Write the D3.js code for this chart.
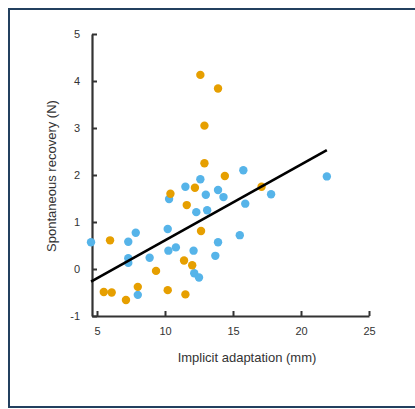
<!DOCTYPE html>
<html>
<head>
<meta charset="utf-8">
<script src="https://cdn.jsdelivr.net/npm/d3@7"></script>
<style>
  body { margin: 0; background: #fff; }
  text { font-family: "Liberation Sans", Arial, sans-serif; fill: #333; }
</style>
</head>
<body>
<svg id="chart" width="415" height="409"></svg>
<script>
// blue group
var blueX = [4.56, 7.3, 7.85, 7.3, 7.3, 8.0, 8.87, 10.2, 10.25, 10.8, 10.3, 11.5, 12.6, 13.0,
  12.3, 13.1, 12.1, 12.15, 12.5, 13.9, 13.7, 13.9, 14.3, 15.76, 15.9, 17.8, 21.9, 15.5];
var blueY = [0.57, 0.58, 0.77, 0.23, 0.13, -0.55, 0.24, 0.85, 0.39, 0.46, 1.49, 1.75, 1.91, 1.58,
  1.21, 1.25, 0.39, -0.09, -0.18, 0.57, 0.28, 1.68, 1.53, 2.10, 1.39, 1.59, 1.97, 0.72];

// orange group
var orangeX = [5.96, 5.5, 6.08, 7.13, 8.0, 9.34, 10.2, 11.5, 11.4, 12.0, 10.4, 11.6, 12.2, 12.65,
  12.9, 14.4, 12.6, 13.9, 12.9, 17.1];
var orangeY = [0.61, -0.49, -0.5, -0.66, -0.38, -0.04, -0.45, -0.54, 0.18, 0.08, 1.6, 1.36, 1.73, 0.81,
  2.25, 1.98, 4.13, 3.84, 3.05, 1.75];

// fitted line ends
var fitX = [4.56, 21.9];
var fitY = [-0.27, 2.53];

var xTicks = [5, 10, 15, 20, 25];
var yTicks = [-1, 0, 1, 2, 3, 4, 5];

const svg = d3.select("#chart");

// frame
svg.append("rect")
  .attr("x", 9)
  .attr("y", 9)
  .attr("width", 420)
  .attr("height", 398)
  .attr("fill", "none")
  .attr("stroke", "#23405f")
  .attr("stroke-width", 2);

var xScale = d3.scaleLinear()
  .domain([5 - 5 / 13.6, 25])
  .range([92, 369]);

var yScale = d3.scaleLinear()
  .domain([-1, 5])
  .range([316, 34]);

var xAxis = d3.axisBottom(xScale).tickValues(xTicks).tickFormat(d => String(d))
  .tickSizeInner(-5).tickSizeOuter(0).tickPadding(11);
var gx = svg.append("g")
  .attr("transform", "translate(0,316)")
  .call(xAxis);

var yAxis = d3.axisLeft(yScale).tickValues(yTicks).tickFormat(d => String(d))
  .tickSizeInner(-5).tickSizeOuter(0).tickPadding(12);
var gy = svg.append("g")
  .attr("transform", "translate(92,0)")
  .call(yAxis);

[gx, gy].forEach(g => {
  g.select(".domain").attr("stroke", "#333").attr("stroke-width", 2.2);
  g.selectAll(".tick line").attr("stroke", "#333").attr("stroke-width", 2);
  g.selectAll(".tick text").attr("font-size", "11px").attr("fill", "#333")
    .style("font-family", "Liberation Sans, Arial, sans-serif");
});

svg.append("text")
  .attr("x", 247)
  .attr("y", 362)
  .attr("text-anchor", "middle")
  .attr("font-size", "13px")
  .text("Implicit adaptation (mm)");

svg.append("text")
  .attr("transform", "translate(56,176) rotate(-90)")
  .attr("text-anchor", "middle")
  .attr("font-size", "13px")
  .text("Spontaneous recovery (N)");

var blue = blueX.map((x, i) => ({ x: x, y: blueY[i] }));
var orange = orangeX.map((x, i) => ({ x: x, y: orangeY[i] }));

svg.append("g").selectAll("circle")
  .data(blue)
  .enter()
  .append("circle")
  .attr("cx", d => xScale(d.x))
  .attr("cy", d => yScale(d.y))
  .attr("r", 4.2)
  .attr("fill", "#56B4E9");

svg.append("g").selectAll("circle")
  .data(orange)
  .enter()
  .append("circle")
  .attr("cx", d => xScale(d.x))
  .attr("cy", d => yScale(d.y))
  .attr("r", 4.2)
  .attr("fill", "#E69F00");

var line = d3.line()
  .x(d => xScale(d[0]))
  .y(d => yScale(d[1]));

svg.append("path")
  .datum(fitX.map((x, i) => [x, fitY[i]]))
  .attr("d", line)
  .attr("fill", "none")
  .attr("stroke", "#000")
  .attr("stroke-width", 2.6);
</script>
</body>
</html>
